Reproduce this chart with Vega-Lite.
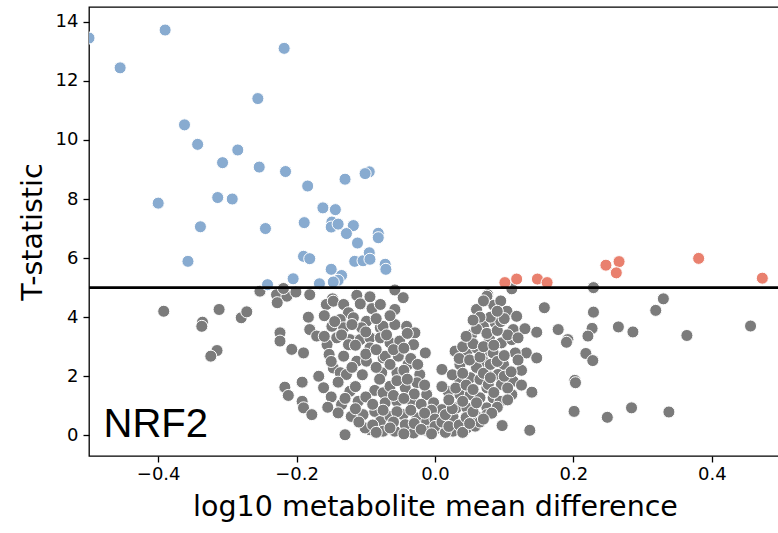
{
  "$schema": "https://vega.github.io/schema/vega-lite/v6.json",
  "width": 692,
  "height": 449,
  "autosize": "none",
  "padding": {"left": 89, "top": 7, "right": 0, "bottom": 77},
  "background": "white",
  "config": {
    "view": {"stroke": "black", "strokeWidth": 1.3},
    "axis": {
      "domain": false,
      "grid": false,
      "ticks": true,
      "tickColor": "black",
      "tickSize": 6,
      "tickWidth": 1.3,
      "labelFont": "DejaVu Sans",
      "labelFontSize": 18,
      "labelColor": "black",
      "titleFont": "DejaVu Sans",
      "titleFontSize": 28.5,
      "titleFontWeight": "normal",
      "titleColor": "black"
    }
  },
  "datasets": {
    "pts": [
      {"x": -0.392, "y": 4.20}, {"x": -0.312, "y": 4.26}, {"x": -0.336, "y": 3.83}, {"x": -0.337, "y": 3.69},
      {"x": -0.280, "y": 3.98}, {"x": -0.272, "y": 4.18}, {"x": -0.315, "y": 2.87}, {"x": -0.324, "y": 2.68},
      {"x": -0.253, "y": 4.88}, {"x": -0.224, "y": 3.47}, {"x": -0.224, "y": 3.19},
      {"x": -0.229, "y": 4.76}, {"x": -0.214, "y": 4.71}, {"x": -0.201, "y": 4.85}, {"x": -0.181, "y": 4.76},
      {"x": -0.148, "y": 4.62}, {"x": -0.113, "y": 4.74}, {"x": -0.094, "y": 4.69}, {"x": -0.058, "y": 4.92},
      {"x": -0.046, "y": 4.66}, {"x": 0.076, "y": 4.76}, {"x": 0.111, "y": 4.96},
      {"x": -0.228, "y": 4.49}, {"x": -0.219, "y": 4.97}, {"x": -0.157, "y": 4.43}, {"x": -0.147, "y": 4.54},
      {"x": -0.132, "y": 4.43}, {"x": -0.108, "y": 4.45}, {"x": -0.091, "y": 4.29}, {"x": -0.079, "y": 4.43},
      {"x": -0.125, "y": 4.15}, {"x": -0.183, "y": 4.00}, {"x": -0.137, "y": 3.92}, {"x": -0.118, "y": 3.98},
      {"x": -0.099, "y": 3.86}, {"x": -0.149, "y": 3.69}, {"x": -0.132, "y": 3.64}, {"x": -0.106, "y": 3.64},
      {"x": -0.079, "y": 3.64}, {"x": -0.181, "y": 3.58}, {"x": -0.171, "y": 3.36}, {"x": -0.142, "y": 3.30},
      {"x": -0.123, "y": 3.24}, {"x": -0.108, "y": 3.24}, {"x": -0.094, "y": 3.30}, {"x": -0.079, "y": 3.30},
      {"x": -0.156, "y": 3.07}, {"x": -0.125, "y": 3.07}, {"x": -0.094, "y": 2.96}, {"x": -0.207, "y": 2.91},
      {"x": -0.190, "y": 2.79}, {"x": -0.153, "y": 2.74}, {"x": -0.132, "y": 2.68}, {"x": -0.113, "y": 2.51},
      {"x": -0.099, "y": 2.51}, {"x": -0.075, "y": 2.62}, {"x": -0.147, "y": 2.28}, {"x": -0.137, "y": 2.12},
      {"x": -0.128, "y": 2.06}, {"x": -0.168, "y": 2.00}, {"x": -0.192, "y": 1.80}, {"x": -0.077, "y": 2.12},
      {"x": -0.161, "y": 1.61}, {"x": -0.217, "y": 1.63}, {"x": -0.212, "y": 1.35}, {"x": -0.123, "y": 1.49},
      {"x": -0.087, "y": 1.52}, {"x": -0.075, "y": 1.44}, {"x": -0.192, "y": 1.15}, {"x": -0.111, "y": 1.15},
      {"x": -0.190, "y": 0.93}, {"x": -0.178, "y": 0.70}, {"x": -0.135, "y": 1.04}, {"x": -0.140, "y": 0.76},
      {"x": -0.121, "y": 0.64}, {"x": -0.104, "y": 0.70}, {"x": -0.087, "y": 0.81}, {"x": -0.094, "y": 0.19},
      {"x": -0.101, "y": 0.25}, {"x": -0.130, "y": 0.02}, {"x": -0.079, "y": 0.47}, {"x": -0.075, "y": 0.14},
      {"x": -0.058, "y": 4.26}, {"x": -0.075, "y": 3.69}, {"x": -0.058, "y": 3.75}, {"x": -0.041, "y": 3.69},
      {"x": -0.029, "y": 3.47}, {"x": -0.065, "y": 3.13}, {"x": -0.051, "y": 3.19}, {"x": -0.031, "y": 3.07},
      {"x": -0.014, "y": 2.79}, {"x": -0.072, "y": 2.68}, {"x": -0.053, "y": 2.68}, {"x": -0.039, "y": 2.40},
      {"x": -0.055, "y": 2.12}, {"x": -0.022, "y": 2.06}, {"x": -0.065, "y": 1.66}, {"x": -0.043, "y": 1.61},
      {"x": -0.026, "y": 1.78}, {"x": -0.012, "y": 1.38}, {"x": -0.072, "y": 1.10}, {"x": -0.055, "y": 1.15},
      {"x": -0.034, "y": 1.18}, {"x": -0.002, "y": 1.10}, {"x": 0.010, "y": 0.87}, {"x": -0.065, "y": 0.64},
      {"x": -0.046, "y": 0.70}, {"x": -0.026, "y": 0.59}, {"x": -0.012, "y": 0.47}, {"x": -0.058, "y": 0.14},
      {"x": -0.043, "y": 0.36}, {"x": -0.031, "y": 0.08}, {"x": -0.010, "y": 0.14}, {"x": 0.005, "y": 0.25},
      {"x": 0.026, "y": 0.14}, {"x": 0.046, "y": 0.25}, {"x": 0.058, "y": 0.31}, {"x": 0.014, "y": 0.47},
      {"x": 0.026, "y": 0.64},
      {"x": 0.010, "y": 2.23}, {"x": 0.019, "y": 1.49}, {"x": 0.031, "y": 0.93}, {"x": 0.034, "y": 1.95},
      {"x": 0.036, "y": 2.40}, {"x": 0.051, "y": 1.95}, {"x": 0.065, "y": 1.89}, {"x": 0.046, "y": 2.85},
      {"x": 0.060, "y": 2.96}, {"x": 0.053, "y": 3.41}, {"x": 0.065, "y": 3.75}, {"x": 0.060, "y": 4.26},
      {"x": 0.072, "y": 4.60}, {"x": 0.036, "y": 1.38}, {"x": 0.051, "y": 1.38}, {"x": 0.065, "y": 1.27},
      {"x": 0.075, "y": 0.93}, {"x": 0.046, "y": 0.93}, {"x": 0.060, "y": 0.64}, {"x": 0.075, "y": 1.61},
      {"x": 0.075, "y": 2.34}, {"x": 0.075, "y": 2.85}, {"x": 0.029, "y": 2.85},
      {"x": 0.075, "y": 4.71}, {"x": 0.104, "y": 4.20}, {"x": 0.087, "y": 3.81}, {"x": 0.070, "y": 3.69},
      {"x": 0.113, "y": 3.58}, {"x": 0.079, "y": 3.24}, {"x": 0.096, "y": 3.13}, {"x": 0.111, "y": 3.24},
      {"x": 0.132, "y": 2.79}, {"x": 0.116, "y": 2.79}, {"x": 0.084, "y": 2.79}, {"x": 0.070, "y": 2.51},
      {"x": 0.099, "y": 2.40}, {"x": 0.075, "y": 2.06}, {"x": 0.091, "y": 2.06}, {"x": 0.113, "y": 1.83},
      {"x": 0.077, "y": 1.72}, {"x": 0.096, "y": 1.72}, {"x": 0.084, "y": 1.27}, {"x": 0.111, "y": 1.38},
      {"x": 0.094, "y": 1.15}, {"x": 0.075, "y": 0.70},
      {"x": 0.158, "y": 4.32}, {"x": 0.178, "y": 3.58}, {"x": 0.147, "y": 3.49}, {"x": 0.192, "y": 3.24},
      {"x": 0.190, "y": 3.15}, {"x": 0.202, "y": 1.86}, {"x": 0.203, "y": 1.78}, {"x": 0.201, "y": 0.81},
      {"x": 0.137, "y": 0.17}, {"x": 0.097, "y": 0.33}, {"x": 0.147, "y": 2.62}, {"x": 0.140, "y": 1.46},
      {"x": 0.125, "y": 2.20}, {"x": 0.118, "y": 4.03}, {"x": 0.130, "y": 3.61},
      {"x": 0.229, "y": 5.00}, {"x": 0.330, "y": 4.62}, {"x": 0.319, "y": 4.23}, {"x": 0.229, "y": 4.17},
      {"x": 0.456, "y": 3.70}, {"x": 0.265, "y": 3.67}, {"x": 0.286, "y": 3.50}, {"x": 0.364, "y": 3.38},
      {"x": 0.227, "y": 3.62}, {"x": 0.221, "y": 3.36}, {"x": 0.218, "y": 2.77}, {"x": 0.228, "y": 2.53},
      {"x": 0.284, "y": 0.93}, {"x": 0.249, "y": 0.61}, {"x": 0.338, "y": 0.79},
      {"x": -0.160, "y": 4.05}, {"x": -0.145, "y": 3.85}, {"x": -0.120, "y": 3.75}, {"x": -0.100, "y": 3.50},
      {"x": -0.085, "y": 3.95}, {"x": -0.070, "y": 3.40}, {"x": -0.065, "y": 4.05}, {"x": -0.160, "y": 3.35},
      {"x": -0.135, "y": 3.40}, {"x": -0.115, "y": 3.05}, {"x": -0.100, "y": 2.75}, {"x": -0.085, "y": 2.90},
      {"x": -0.060, "y": 2.90}, {"x": -0.045, "y": 2.95}, {"x": -0.040, "y": 3.45}, {"x": -0.150, "y": 2.50},
      {"x": -0.120, "y": 2.30}, {"x": -0.105, "y": 2.05}, {"x": -0.085, "y": 2.30}, {"x": -0.065, "y": 2.40},
      {"x": -0.045, "y": 2.20}, {"x": -0.035, "y": 2.60}, {"x": -0.025, "y": 2.40}, {"x": -0.140, "y": 1.80},
      {"x": -0.115, "y": 1.65}, {"x": -0.080, "y": 1.90}, {"x": -0.055, "y": 1.85}, {"x": -0.040, "y": 1.90},
      {"x": -0.030, "y": 1.40}, {"x": -0.015, "y": 1.70}, {"x": -0.150, "y": 1.30}, {"x": -0.130, "y": 1.25},
      {"x": -0.100, "y": 1.30}, {"x": -0.090, "y": 1.05}, {"x": -0.060, "y": 1.35}, {"x": -0.045, "y": 1.25},
      {"x": -0.020, "y": 1.05}, {"x": -0.005, "y": 0.85}, {"x": -0.155, "y": 0.95}, {"x": -0.115, "y": 0.90},
      {"x": -0.075, "y": 0.85}, {"x": -0.055, "y": 0.80}, {"x": -0.035, "y": 0.85}, {"x": -0.015, "y": 0.75},
      {"x": 0.000, "y": 0.55}, {"x": -0.110, "y": 0.45}, {"x": -0.090, "y": 0.35}, {"x": -0.060, "y": 0.45},
      {"x": -0.030, "y": 0.40}, {"x": -0.020, "y": 0.20}, {"x": 0.000, "y": 0.30}, {"x": -0.005, "y": 0.05},
      {"x": 0.015, "y": 0.10}, {"x": 0.010, "y": 0.45}, {"x": 0.020, "y": 0.30}, {"x": 0.035, "y": 0.35},
      {"x": 0.040, "y": 0.10}, {"x": -0.045, "y": 0.05}, {"x": -0.065, "y": 0.25}, {"x": -0.085, "y": 0.10},
      {"x": 0.015, "y": 0.70}, {"x": 0.025, "y": 0.90}, {"x": 0.020, "y": 1.20}, {"x": 0.030, "y": 1.60},
      {"x": 0.040, "y": 1.15}, {"x": 0.045, "y": 0.60}, {"x": 0.055, "y": 0.80}, {"x": 0.060, "y": 1.10},
      {"x": 0.065, "y": 0.45}, {"x": 0.010, "y": 1.65}, {"x": 0.025, "y": 2.05}, {"x": 0.040, "y": 2.10},
      {"x": 0.045, "y": 1.70}, {"x": 0.055, "y": 1.55}, {"x": 0.060, "y": 2.30}, {"x": 0.070, "y": 2.10},
      {"x": 0.080, "y": 1.95}, {"x": 0.085, "y": 1.45}, {"x": 0.090, "y": 0.95}, {"x": 0.035, "y": 2.60},
      {"x": 0.050, "y": 2.55}, {"x": 0.065, "y": 2.65}, {"x": 0.080, "y": 2.40}, {"x": 0.090, "y": 2.50},
      {"x": 0.100, "y": 2.00}, {"x": 0.105, "y": 1.60}, {"x": 0.040, "y": 3.00}, {"x": 0.055, "y": 3.10},
      {"x": 0.070, "y": 3.00}, {"x": 0.085, "y": 3.05}, {"x": 0.100, "y": 2.70}, {"x": 0.105, "y": 3.40},
      {"x": 0.045, "y": 3.35}, {"x": 0.060, "y": 3.60}, {"x": 0.075, "y": 3.45}, {"x": 0.090, "y": 3.55},
      {"x": 0.095, "y": 3.85}, {"x": 0.080, "y": 4.00}, {"x": 0.065, "y": 4.00}, {"x": 0.085, "y": 4.40},
      {"x": 0.095, "y": 4.55}, {"x": 0.100, "y": 3.95}, {"x": 0.055, "y": 3.90}, {"x": 0.070, "y": 4.55},
      {"x": 0.090, "y": 4.20}, {"x": 0.120, "y": 3.30}, {"x": 0.120, "y": 2.55}, {"x": 0.110, "y": 2.15},
      {"x": 0.105, "y": 1.20}, {"x": 0.125, "y": 1.70}, {"x": 0.082, "y": 0.75}, {"x": 0.070, "y": 0.55},
      {"x": 0.050, "y": 0.40},
      {"x": -0.500, "y": 13.45}, {"x": -0.455, "y": 12.44}, {"x": -0.390, "y": 13.72}, {"x": -0.218, "y": 13.10},
      {"x": -0.256, "y": 11.40}, {"x": -0.362, "y": 10.51}, {"x": -0.343, "y": 9.85}, {"x": -0.285, "y": 9.66},
      {"x": -0.307, "y": 9.23}, {"x": -0.254, "y": 9.08}, {"x": -0.216, "y": 8.93}, {"x": -0.184, "y": 8.44},
      {"x": -0.400, "y": 7.86}, {"x": -0.314, "y": 8.05}, {"x": -0.293, "y": 8.00}, {"x": -0.162, "y": 7.70},
      {"x": -0.339, "y": 7.06}, {"x": -0.245, "y": 7.00}, {"x": -0.189, "y": 7.20}, {"x": -0.357, "y": 5.89},
      {"x": -0.190, "y": 6.06}, {"x": -0.181, "y": 5.98}, {"x": -0.205, "y": 5.30}, {"x": -0.242, "y": 5.10},
      {"x": -0.167, "y": 5.13}, {"x": -0.095, "y": 8.92}, {"x": -0.101, "y": 8.86}, {"x": -0.130, "y": 8.67},
      {"x": -0.144, "y": 7.64}, {"x": -0.149, "y": 7.22}, {"x": -0.150, "y": 7.05}, {"x": -0.140, "y": 7.15},
      {"x": -0.118, "y": 7.10}, {"x": -0.128, "y": 6.83}, {"x": -0.112, "y": 6.51}, {"x": -0.082, "y": 6.84},
      {"x": -0.082, "y": 6.69}, {"x": -0.116, "y": 5.89}, {"x": -0.104, "y": 5.91}, {"x": -0.095, "y": 6.18},
      {"x": -0.094, "y": 5.96}, {"x": -0.072, "y": 5.79}, {"x": -0.071, "y": 5.62}, {"x": -0.150, "y": 5.62},
      {"x": -0.135, "y": 5.41}, {"x": -0.140, "y": 5.25}, {"x": -0.147, "y": 5.19},
      {"x": 0.101, "y": 5.17}, {"x": 0.118, "y": 5.29}, {"x": 0.148, "y": 5.29}, {"x": 0.162, "y": 5.17},
      {"x": 0.247, "y": 5.76}, {"x": 0.266, "y": 5.88}, {"x": 0.262, "y": 5.50}, {"x": 0.381, "y": 5.99},
      {"x": 0.473, "y": 5.32}
    ],
    "label": [{"x": -0.479, "y": -0.04, "text": "NRF2"}],
    "thresh": [{"y": 5}]
  },
  "layer": [
    {
      "data": {"name": "pts"},
      "mark": {"type": "circle", "opacity": 1, "stroke": "white", "strokeWidth": 1, "size": 145, "clip": true},
      "encoding": {
        "x": {
          "field": "x", "type": "quantitative",
          "scale": {"domain": [-0.5, 0.5], "nice": false, "zero": false},
          "axis": {"values": [-0.4, -0.2, 0, 0.2, 0.4], "format": ".1f", "title": "log10 metabolite mean difference", "labelPadding": 3, "titlePadding": 9}
        },
        "y": {
          "field": "y", "type": "quantitative",
          "scale": {"domain": [-0.7, 14.5], "nice": false, "zero": false},
          "axis": {"values": [0, 2, 4, 6, 8, 10, 12, 14], "title": "T-statistic", "labelPadding": 5, "titlePadding": 8}
        },
        "color": {
          "condition": [
            {"test": "datum.y > 5 && datum.x < 0", "value": "#88abd0"},
            {"test": "datum.y > 5 && datum.x > 0", "value": "#e9806e"}
          ],
          "value": "#7b7b7b"
        }
      }
    },
    {
      "data": {"name": "thresh"},
      "mark": {"type": "rule", "color": "black", "strokeWidth": 2.6},
      "encoding": {"y": {"field": "y", "type": "quantitative"}}
    },
    {
      "data": {"name": "label"},
      "mark": {"type": "text", "font": "Liberation Sans", "fontSize": 40, "align": "left", "baseline": "alphabetic", "color": "black"},
      "encoding": {
        "x": {"field": "x", "type": "quantitative"},
        "y": {"field": "y", "type": "quantitative"},
        "text": {"field": "text"}
      }
    }
  ]
}
